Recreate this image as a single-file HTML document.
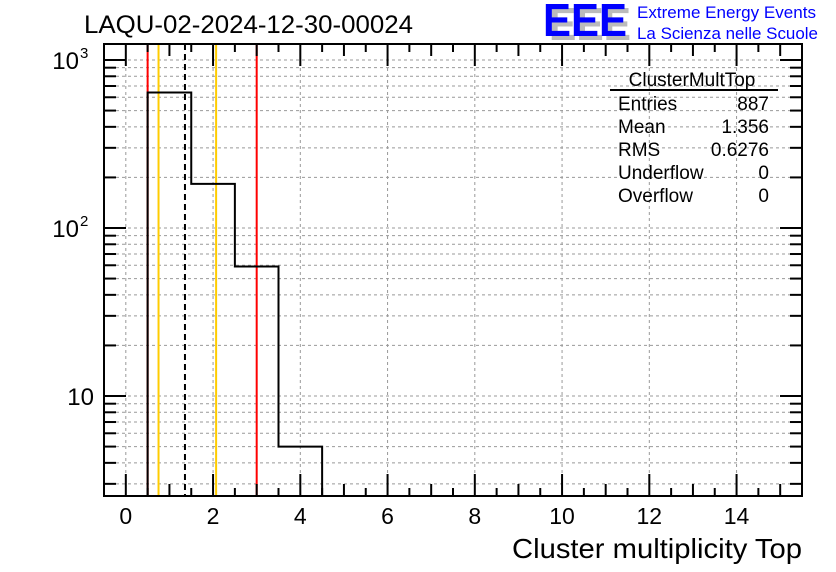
<!DOCTYPE html>
<html><head><meta charset="utf-8"><style>
body{margin:0;background:#fff;}
svg{display:block;font-family:"Liberation Sans",sans-serif;}
</style></head><body>
<svg id="c" width="836" height="572" viewBox="0 0 836 572">
<rect width="836" height="572" fill="#fff"/>
<g id="grid"></g>
<g id="lines"></g>
<g id="hist"></g>
<g id="axes"></g>
<text x="84" y="33" font-size="25" textLength="329" lengthAdjust="spacingAndGlyphs">LAQU-02-2024-12-30-00024</text>
<g>
<text x="549" y="40" font-size="46" font-weight="bold" fill="#bbb" textLength="82" lengthAdjust="spacingAndGlyphs">EEE</text>
<text x="543" y="36" font-size="46" font-weight="bold" fill="#0000ff" textLength="84" lengthAdjust="spacingAndGlyphs">EEE</text>
<text x="637" y="18" font-size="17" fill="#0000ff" textLength="179" lengthAdjust="spacingAndGlyphs">Extreme Energy Events</text>
<text x="637" y="39" font-size="17" fill="#0000ff" textLength="181" lengthAdjust="spacingAndGlyphs">La Scienza nelle Scuole</text>
</g>
<g font-size="19">
<text x="692" y="86" text-anchor="middle">ClusterMultTop</text>
<line x1="610" y1="90" x2="778" y2="90" stroke="#000" stroke-width="2"/>
<text x="618" y="110">Entries</text><text x="769" y="110" text-anchor="end">887</text>
<text x="618" y="133">Mean</text><text x="769" y="133" text-anchor="end">1.356</text>
<text x="618" y="156">RMS</text><text x="769" y="156" text-anchor="end">0.6276</text>
<text x="618" y="179">Underflow</text><text x="769" y="179" text-anchor="end">0</text>
<text x="618" y="202">Overflow</text><text x="769" y="202" text-anchor="end">0</text>
</g>
<text x="802" y="558" font-size="28" text-anchor="end" textLength="290" lengthAdjust="spacingAndGlyphs">Cluster multiplicity Top</text>
</svg>
<script>
const binEdges=[0.5,1.5,2.5,3.5,4.5];
const counts=[640,183,59,5];
const xTicks=[0,2,4,6,8,10,12,14];
const yTicks=[10,100,1000];
const yTickExps=["","2","3"];
const vlineValues=[0.5,0.75,1.356,2.07,3.0];
const vlineColors=["#ff0000","#ffcc00","#000","#ffcc00","#ff0000"];
const L=104,R=802,T=44,B=496,XMIN=-0.5,XMAX=15.5,YMIN=2.54,YMAX=1245;
const NS="http://www.w3.org/2000/svg";
const X=v=>L+(v-XMIN)/(XMAX-XMIN)*(R-L);
const Y=v=>B-(Math.log10(v)-Math.log10(YMIN))/(Math.log10(YMAX)-Math.log10(YMIN))*(B-T);
function mk(t,a,p){const e=document.createElementNS(NS,t);for(const k in a)e.setAttribute(k,a[k]);p.appendChild(e);return e;}
const grid=document.getElementById('grid'),lines=document.getElementById('lines'),hist=document.getElementById('hist'),axes=document.getElementById('axes');
xTicks.forEach(v=>{const g=mk('line',{x1:X(v),x2:X(v),y1:T,y2:B,stroke:'#999','stroke-dasharray':'3,3'},grid);

});
for(let d=1;d<=1000;d*=10)for(let m=1;m<10;m++){const v=d*m;if(v<YMIN||v>YMAX)continue;
const g=mk('line',{x1:L,x2:R,y1:Y(v),y2:Y(v),stroke:'#999','stroke-dasharray':'3,3'},grid);


const t=mk('line',{x1:L,x2:L+(m===1?22:12),y1:Y(v),y2:Y(v),stroke:'#000','stroke-width':2},axes);


const t2=mk('line',{x1:R,x2:R-(m===1?22:12),y1:Y(v),y2:Y(v),stroke:'#000','stroke-width':2},axes);

}
vlineValues.forEach((v,i)=>{const l=mk('line',{x1:X(v),x2:X(v),y1:T,y2:B,stroke:vlineColors[i],'stroke-width':2,'stroke-dasharray':i===2?'6,4':'none'},lines);

});
let d='M'+X(binEdges[0])+','+B;
counts.forEach((c,i)=>{d+=' L'+X(binEdges[i])+','+Y(c)+' L'+X(binEdges[i+1])+','+Y(c);});
d+=' L'+X(binEdges[binEdges.length-1])+','+B;
const h=mk('path',{d:d,fill:'none',stroke:'#000','stroke-width':2},hist);


const f=mk('rect',{x:L,y:T,width:R-L,height:B-T,fill:'none',stroke:'#000','stroke-width':2},axes);


for(let v=0;v<=XMAX;v+=0.5){const major=v%2===0;const len=major?22:(v%1===0?12:8);
const t=mk('line',{x1:X(v),x2:X(v),y1:B,y2:B-len,stroke:'#000','stroke-width':2},axes);


const t2=mk('line',{x1:X(v),x2:X(v),y1:T,y2:T+len,stroke:'#000','stroke-width':2},axes);

}
xTicks.forEach(v=>{const t=mk('text',{x:X(v),y:B+28,'font-size':23,'text-anchor':'middle'},axes);t.textContent=v;

});
yTicks.forEach((v,i)=>{const e=yTickExps[i];
const t=mk('text',{x:e?L-25:L-10,y:Y(v)+9,'font-size':24,'text-anchor':'end'},axes);t.textContent='10';


if(e){const s=mk('text',{x:L-24,y:Y(v)-2,'font-size':15},axes);s.textContent=e;

}});
</script>
</body></html>
